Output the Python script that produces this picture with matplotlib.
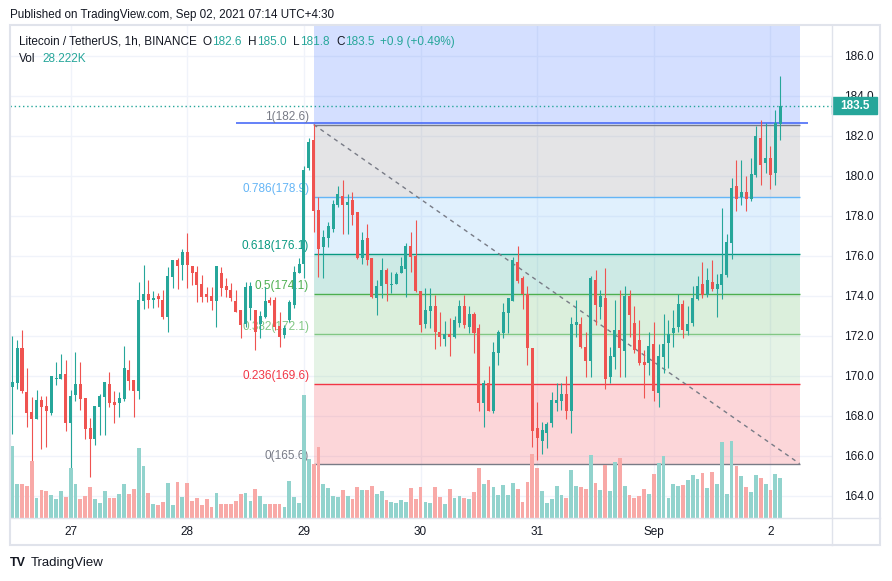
import matplotlib
matplotlib.use('Agg')
import matplotlib.pyplot as plt
from matplotlib.patches import Rectangle
from matplotlib.lines import Line2D

plt.rcParams['font.family'] = ['Liberation Sans', 'DejaVu Sans']

# свечи LTC/USDT 1h, с 26 авг 12:00 по 2 сен 02:00
opens = [169.45, 169.65, 171.39, 169.19, 168.19, 167.85, 168.79, 168.49, 168.15, 169.85,
         169.85, 170.09, 167.65, 169.05, 169.59, 168.89, 167.39, 166.85, 168.42, 168.95,
         169.59, 168.69, 168.65, 168.85, 170.29, 169.79, 169.25, 173.75, 174.09, 173.77,
         173.99, 173.79, 172.95, 174.95, 175.79, 175.54, 176.17, 175.5, 175.2, 174.57,
         174.07, 173.99, 173.75, 175.12, 174.49, 174.29, 173.74, 173.29, 172.57, 173.37,
         173.29, 172.57, 172.95, 173.79, 173.79, 172.5, 172.04, 172.79, 173.54, 175.15,
         175.6, 180.37, 181.79, 178.29, 176.45, 176.87, 177.34, 178.54, 178.99, 178.54,
         178.79, 178.17, 175.87, 176.87, 175.87, 173.87, 174.49, 175.29, 174.55, 174.57,
         175.15, 175.34, 176.5, 175.99, 174.25, 172.57, 173.25, 173.49, 172.2, 171.84,
         172.07, 171.95, 172.65, 173.49, 172.45, 173.09, 172.37, 168.65, 169.65, 168.25,
         171.15, 172.15, 173.15, 173.75, 175.7, 174.9, 174.09, 171.37, 167.37, 166.75,
         167.15, 167.65, 168.65, 168.75, 169.09, 168.25, 172.55, 172.59, 171.42, 170.75,
         174.79, 173.45, 173.87, 169.95, 170.95, 172.29, 171.25, 173.99, 172.62, 171.79,
         170.69, 170.65, 171.59, 169.15, 170.95, 171.65, 172.15, 172.45, 173.59, 172.25,
         172.65, 173.85, 174.59, 174.04, 174.69, 174.35, 174.55, 175.05, 176.65, 179.49,
         178.95, 179.19, 178.85, 180.05, 181.89, 180.65, 180.89, 180.15, 182.6]
highs = [172.0, 171.8, 172.29, 170.39, 168.92, 169.29, 168.99, 168.99, 169.99, 170.69,
         171.09, 170.79, 169.29, 171.19, 170.69, 168.89, 167.89, 168.49, 169.09, 169.69,
         170.19, 169.25, 169.19, 171.49, 170.79, 169.79, 174.67, 175.54, 174.79, 174.25,
         174.12, 174.29, 175.45, 175.79, 175.9, 176.34, 177.12, 175.5, 175.5, 175.04,
         174.45, 174.45, 175.49, 175.45, 174.87, 174.62, 174.29, 173.29, 174.7, 174.7,
         173.3, 173.24, 174.45, 173.95, 173.95, 173.2, 172.54, 173.79, 175.5, 175.87,
         180.5, 181.87, 182.6, 178.95, 177.29, 177.7, 178.79, 179.49, 179.79, 179.07,
         179.17, 178.17, 177.2, 177.57, 175.87, 174.79, 175.9, 175.37, 175.2, 175.2,
         175.95, 176.62, 177.2, 177.79, 174.25, 174.37, 174.37, 174.04, 173.2, 172.74,
         172.87, 173.0, 173.79, 174.04, 173.49, 173.2, 172.59, 169.79, 170.49, 171.67,
         172.29, 173.65, 173.87, 175.92, 176.49, 174.99, 174.49, 171.37, 168.7, 167.7,
         167.7, 169.2, 169.62, 169.62, 169.99, 172.92, 173.79, 172.92, 172.2, 174.99,
         175.29, 174.29, 175.37, 171.42, 173.79, 174.29, 174.49, 174.29, 173.49, 172.79,
         171.29, 172.19, 172.69, 171.59, 173.09, 172.79, 173.29, 174.09, 173.79, 173.49,
         174.49, 174.99, 175.69, 175.39, 175.79, 175.09, 178.39, 177.09, 179.89, 180.79,
         180.79, 179.99, 180.89, 182.49, 182.79, 182.62, 181.49, 183.29, 185.0]
lows = [167.1, 169.33, 169.15, 167.45, 164.85, 167.85, 166.35, 166.45, 168.05, 169.55,
        169.85, 167.25, 165.29, 168.75, 168.29, 166.85, 164.95, 166.55, 167.05, 167.05,
        168.45, 167.65, 167.95, 168.75, 169.29, 167.95, 168.85, 173.32, 173.37, 173.37,
        173.45, 172.84, 172.17, 174.37, 174.35, 174.79, 174.37, 174.54, 173.67, 173.67,
        173.7, 173.29, 172.45, 174.0, 173.95, 173.74, 173.17, 171.87, 172.45, 172.8,
        171.29, 171.87, 172.87, 173.54, 172.29, 171.45, 171.9, 172.7, 173.37, 175.15,
        174.9, 180.29, 177.17, 174.95, 174.87, 176.45, 177.2, 178.45, 177.07, 177.07,
        177.54, 175.84, 175.57, 175.54, 173.87, 173.04, 173.87, 173.74, 174.12, 174.57,
        175.12, 173.95, 175.2, 174.2, 172.2, 172.37, 172.37, 171.34, 171.5, 171.5,
        170.99, 171.87, 172.45, 172.37, 172.15, 171.15, 168.25, 167.45, 168.25, 168.12,
        170.54, 171.87, 172.15, 173.75, 174.65, 173.34, 170.54, 166.45, 165.79, 166.09,
        166.37, 167.45, 168.25, 168.29, 167.85, 167.15, 171.95, 171.37, 169.95, 169.95,
        172.54, 172.82, 169.32, 169.62, 170.32, 169.95, 169.95, 171.95, 171.12, 170.54,
        168.87, 170.04, 168.75, 168.45, 170.15, 170.37, 171.45, 172.2, 171.87, 172.04,
        172.49, 173.79, 173.87, 173.95, 174.25, 172.95, 173.85, 174.95, 175.85, 178.25,
        178.55, 178.25, 178.75, 179.95, 179.55, 180.15, 179.35, 179.55, 181.8]
closes = [169.7, 171.39, 169.22, 168.15, 167.85, 168.79, 168.45, 168.25, 169.99, 169.88,
          170.09, 167.65, 168.99, 169.59, 168.85, 167.35, 166.85, 168.49, 168.99, 169.69,
          168.65, 168.55, 168.89, 170.39, 169.75, 169.25, 173.79, 174.09, 173.79, 173.9,
          173.84, 172.95, 174.99, 175.79, 175.5, 176.17, 175.54, 175.15, 174.54, 173.95,
          173.95, 173.74, 175.49, 174.37, 174.27, 173.87, 173.2, 172.54, 174.45, 174.49,
          172.17, 173.0, 173.74, 173.65, 172.45, 171.95, 172.4, 173.7, 175.2, 175.57,
          180.29, 181.67, 178.24, 176.34, 176.95, 177.5, 178.57, 179.07, 178.54, 178.7,
          178.04, 175.87, 176.79, 175.79, 173.95, 174.49, 175.29, 174.57, 174.6, 175.09,
          175.5, 176.5, 175.95, 174.25, 172.54, 173.29, 173.49, 172.17, 171.95, 172.07,
          171.95, 172.79, 173.49, 172.54, 173.09, 172.12, 168.65, 169.65, 168.25, 171.17,
          172.19, 173.2, 173.87, 175.79, 174.75, 174.09, 171.37, 167.25, 166.87, 167.29,
          167.57, 168.79, 168.79, 169.09, 168.25, 172.59, 172.69, 171.45, 170.75, 174.9,
          173.54, 173.99, 169.84, 170.99, 172.29, 171.37, 173.99, 173.04, 171.29, 170.62,
          170.54, 171.49, 169.25, 170.99, 171.59, 172.09, 172.39, 173.59, 172.29, 172.59,
          173.89, 174.49, 174.04, 174.79, 174.35, 174.59, 175.09, 176.69, 179.39, 178.85,
          179.19, 178.85, 180.09, 181.99, 180.55, 180.89, 180.05, 182.62, 183.5]
# объём, тыс. LTC
volumes = [50.6, 24.2, 24.2, 22.6, 40.2, 14.1, 20.0, 18.8, 16.0, 13.2,
           18.8, 14.8, 35.5, 23.8, 13.2, 15.3, 21.9, 13.6, 10.8, 18.8,
           14.1, 14.1, 16.7, 23.8, 16.7, 20.3, 49.6, 36.5, 17.6, 10.1,
           9.4, 11.3, 24.9, 9.0, 25.4, 14.8, 24.9, 11.8, 14.1, 9.0,
           13.2, 7.8, 17.9, 10.1, 10.1, 10.1, 11.8, 16.7, 17.6, 11.8,
           20.3, 15.3, 10.1, 9.7, 9.7, 10.1, 7.8, 25.9, 14.8, 10.6,
           86.8, 41.6, 38.3, 50.3, 24.0, 21.2, 15.5, 14.8, 19.8, 15.5,
           13.4, 21.9, 19.8, 19.8, 22.6, 16.9, 19.1, 12.7, 11.3, 10.6,
           12.7, 11.3, 21.2, 13.4, 21.9, 11.3, 10.6, 21.9, 14.8, 9.9,
           20.5, 14.1, 15.5, 14.1, 13.4, 18.3, 35.3, 24.0, 26.8, 21.9,
           16.2, 23.3, 16.2, 24.7, 20.5, 11.3, 25.4, 45.2, 35.3, 19.1,
           10.6, 13.4, 22.6, 16.2, 14.3, 33.9, 22.6, 21.7, 20.3, 44.5,
           24.7, 19.8, 37.4, 19.1, 39.3, 42.1, 22.8, 16.2, 14.1, 15.5,
           20.5, 16.9, 31.0, 38.6, 43.7, 14.1, 24.0, 22.6, 23.3, 26.8,
           30.3, 27.5, 31.8, 21.2, 32.5, 24.0, 53.6, 16.9, 54.3, 36.7,
           29.6, 21.9, 18.3, 30.3, 28.2, 24.0, 19.8, 31.0, 28.222]

day_ticks = [12, 36, 60, 84, 108, 132, 156]
day_labels = ['27', '28', '29', '30', '31', 'Sep', '2']
price_ticks = [164, 166, 168, 170, 172, 174, 176, 178, 180, 182, 184, 186]

# уровни Фибоначчи
fib_levels = [1, 0.786, 0.618, 0.5, 0.382, 0.236, 0]
fib_names = ['1', '0.786', '0.618', '0.5', '0.382', '0.236', '0']
fib_colors = ['#787b86', '#64b5f6', '#089981', '#4caf50', '#81c784', '#f23645', '#787b86']
fib_high = 182.56
fib_low = 165.6
fib_start = 62
fib_end = 162

UP = '#26a69a'
DOWN = '#ef5350'
TXT = '#131722'
W, H = 892, 581


def fx(px):
    return px / W


def fy(py):
    return 1 - py / H


fig = plt.figure(figsize=(W / 100, H / 100), dpi=100)
fig.patch.set_facecolor('white')
ax = fig.add_axes([fx(10), fy(518), fx(832) - fx(10), fy(25) - fy(518)])
ax2 = ax.twinx()
ax.yaxis.tick_right()

ax.set_xlim(-0.47, 168.66)
ax.set_ylim(162.885, 187.535)
ax.set_axisbelow(True)

# сетка
ax.set_yticks(price_ticks, [f'{p:.1f}' for p in price_ticks])
ax.set_xticks(day_ticks, day_labels)
ax.grid(True, color='#f0f3fa', lw=1)
ax.tick_params(axis='y', length=0, pad=9, labelsize=8.5, colors=TXT)
ax.tick_params(axis='x', length=0, pad=6, labelsize=8.5, colors=TXT)
for s in ax.spines.values():
    s.set_visible(False)

# зоны фибо
prices = [fib_low + l * (fib_high - fib_low) for l in fib_levels]
ax.fill_between([fib_start, fib_end], fib_high, ax.get_ylim()[1], color='#2962ff', alpha=0.2, lw=0)
for k in range(len(prices) - 1):
    ax.fill_between([fib_start, fib_end], prices[k + 1], prices[k], color=fib_colors[k], alpha=0.2, lw=0)
for p, name, col in zip(prices, fib_names, fib_colors):
    ax.hlines(p, fib_start, fib_end, color=col, lw=1)
    ax.text(fib_start - 0.9, p + 0.08, f'{name}({p:.1f})', ha='right', va='bottom',
            color=col, fontsize=8.5)
ax.plot([fib_start, fib_end], [fib_high, fib_low], color='#787b86', lw=1, ls=(0, (3, 3)))
ax.hlines(fib_high + 0.09, 46, 163.7, color='#4a6cf7', lw=1.2)

# свечи
idx = list(range(len(closes)))
cols = [UP if c >= o else DOWN for o, c in zip(opens, closes)]
vcols = ['#92d3cd' if c == UP else '#f8a9a7' for c in cols]
ax.vlines(idx, lows, highs, colors=cols, lw=0.8, zorder=3)
bottoms = [min(o, c) for o, c in zip(opens, closes)]
heights = [max(abs(c - o), 0.05) for o, c in zip(opens, closes)]
ax.bar(idx, heights, bottom=bottoms, width=0.62, color=cols, lw=0, zorder=4)

# последняя цена
last = closes[-1]
ax.axhline(last, color=UP, lw=1, ls=(0, (1, 2)), zorder=2)
tr = ax.get_yaxis_transform()
ax.add_patch(Rectangle((1.0, last - 0.43), 0.055, 0.86, transform=tr, color=UP,
                       clip_on=False, zorder=5))
ax.text(1.0275, last, f'{last:.1f}', transform=tr, ha='center', va='center',
        color='white', fontsize=8.5, fontweight='bold', clip_on=False, zorder=6)

# объём
ax2.bar(idx, volumes, width=0.78, color=vcols, lw=0)
ax2.set_ylim(0, 347.8)
ax2.set_axis_off()

# рамка
line_c = '#e0e3eb'
fig.add_artist(Rectangle((fx(10), fy(545)), fx(880) - fx(10), fy(25) - fy(545), fill=False,
                         ec=line_c, lw=1.5, transform=fig.transFigure))
fig.add_artist(Line2D([fx(832), fx(832)], [fy(25), fy(545)], color=line_c, lw=1,
                      transform=fig.transFigure))
fig.add_artist(Line2D([fx(10), fx(880)], [fy(518), fy(518)], color=line_c, lw=1,
                      transform=fig.transFigure))

# подписи
fig.text(fx(10), fy(15), 'Published on TradingView.com, Sep 02, 2021 07:14 UTC+4:30',
         va='center', fontsize=8.4, color=TXT)

# легенда: кусочки ставим друг за другом
renderer = fig.canvas.get_renderer()
legend_parts = [('Litecoin / TetherUS, 1h, BINANCE', TXT, 6), ('O', TXT, 0), ('182.6', UP, 7),
                ('H', TXT, 0), ('185.0', UP, 7), ('L', TXT, 0), ('181.8', UP, 7),
                ('C', TXT, 0), ('183.5', UP, 6), ('+0.9 (+0.49%)', UP, 0)]
x = 19
for t, c, gap in legend_parts:
    txt = fig.text(fx(x), fy(42), t, va='center', fontsize=8.5, color=c)
    x = txt.get_window_extent(renderer).x1 + gap
fig.text(fx(19), fy(59), 'Vol', va='center', fontsize=8.5, color=TXT)
fig.text(fx(42), fy(59), '28.222K', va='center', fontsize=8.5, color=UP)

fig.text(fx(10), fy(563), 'TV', va='center', fontsize=9, fontweight='heavy', color='#131722')
fig.text(fx(31), fy(563), 'TradingView', va='center', fontsize=9.5, color=TXT)

fig.savefig('out.png', dpi=100)
